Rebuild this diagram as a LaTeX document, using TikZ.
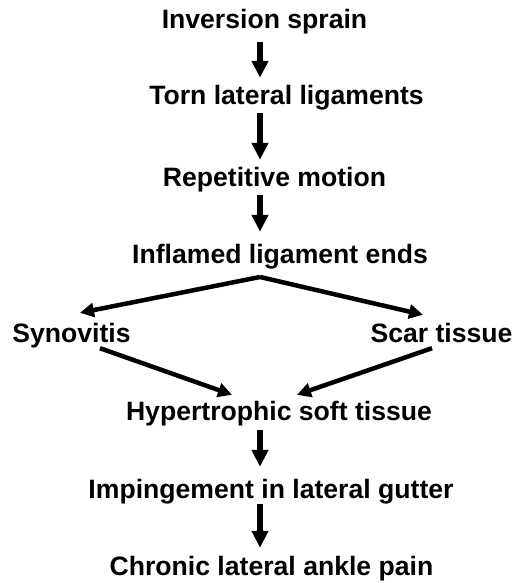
\documentclass[tikz,border=0pt]{standalone}
\usepackage{fontspec}
\setmainfont{Liberation Sans}
\usetikzlibrary{arrows.meta}

\tikzset{
  stage/.style={font=\fontsize{26.6}{30}\bfseries, inner sep=0pt, anchor=base,
    text height=19pt, text depth=6pt},
  down/.style={line width=5.5pt, -{Triangle[length=17pt,width=16pt]}},
  side/.style={line width=4.5pt, -{Triangle[length=14pt,width=14pt]}}
}

\begin{document}
\begin{tikzpicture}[x=1pt,y=-1pt]
\useasboundingbox (0,0) rectangle (515,583);
\coordinate (spine) at (260,0);
% main chain
\node[stage] (inv)  at (264.5,29)  {Inversion sprain};
\node[stage] (torn) at (286.5,105) {Torn lateral ligaments};
\node[stage] (rep)  at (274.5,186) {Repetitive motion};
\node[stage] (infl) at (280,263)   {Inflamed ligament ends};
% two branches
\node[stage] (syn)  at (71.5,342)  {Synovitis};
\node[stage] (scar) at (441.5,342) {Scar tissue};
\node[stage] (hyp)  at (279,420)   {Hypertrophic soft tissue};
\node[stage] (imp)  at (271,498)   {Impingement in lateral gutter};
\node[stage] (chr)  at (271.5,575) {Chronic lateral ankle pain};
\coordinate (fork) at (260,277);

\draw[down, shorten <=7pt, shorten >=8pt]  (inv.south -| spine) -- (torn.north -| spine);
\draw[down, shorten <=2pt, shorten >=7pt]  (torn.south -| spine) -- (rep.north -| spine);
\draw[down, shorten <=3pt, shorten >=12pt] (rep.south -| spine) -- (infl.north -| spine);

% split and join
\draw[side] (fork) -- ([xshift=8.5pt,yshift=10pt]syn.north);
\draw[side] (fork) -- ([xshift=-18.5pt,yshift=8pt]scar.north);
\draw[side] ([xshift=28.5pt]syn.south) -- ([xshift=-47pt,yshift=6pt]hyp.north);
\draw[side] ([xshift=-9.5pt]scar.south) -- ([xshift=18pt,yshift=6pt]hyp.north);

\draw[down, shorten <=4pt, shorten >=12pt] (hyp.south -| spine) -- (imp.north -| spine);
\draw[down, shorten <=0pt, shorten >=8pt]  (imp.south -| spine) -- (chr.north -| spine);
\end{tikzpicture}
\end{document}
